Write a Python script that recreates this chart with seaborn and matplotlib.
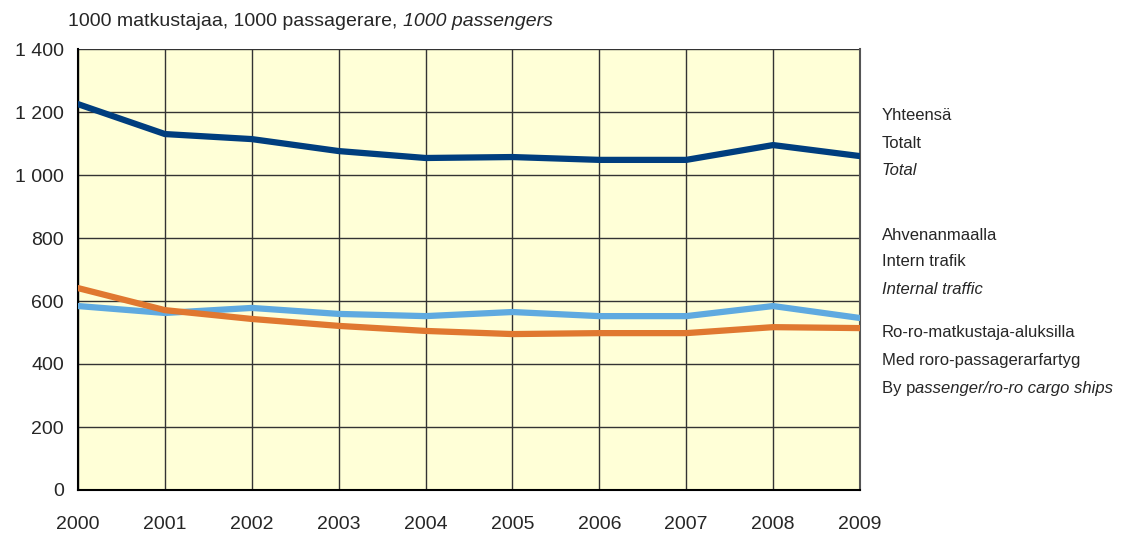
import pandas as pd
import matplotlib
matplotlib.use('Agg')
import matplotlib.pyplot as plt
import seaborn as sns

# Data (1000 passengers)
years = [2000, 2001, 2002, 2003, 2004, 2005, 2006, 2007, 2008, 2009]
total = [1225, 1130, 1114, 1076, 1054, 1057, 1048, 1048, 1095, 1060]
internal = [584, 562, 578, 559, 552, 565, 552, 552, 584, 546]
roro = [641, 571, 543, 521, 505, 495, 498, 498, 517, 514]
y_ticks = [0, 200, 400, 600, 800, 1000, 1200, 1400]
y_labels = ['0', '200', '400', '600', '800', '1 000', '1 200', '1 400']

sns.set_style('white')
plt.rcParams['font.family'] = ['Liberation Sans Narrow', 'Liberation Sans', 'DejaVu Sans']

df = pd.DataFrame({
    'year': years * 3,
    'value': total + internal + roro,
    'series': ['total'] * 10 + ['internal'] * 10 + ['roro'] * 10,
})
colors = {'total': '#003E7E', 'internal': '#5FAAE0', 'roro': '#E07830'}

fig = plt.figure(figsize=(11.3, 5.37), dpi=100)
ax = fig.add_axes([78 / 1130, 47 / 537, 782 / 1130, 441 / 537])
ax.set_facecolor('#FFFFD7')

sns.lineplot(data=df, x='year', y='value', hue='series', palette=colors,
             linewidth=4.5, legend=False, ax=ax, zorder=3)

ax.set_xlim(2000, 2009)
ax.set_ylim(0, 1400)
ax.set_xticks(years)
ax.set_xticklabels([str(y) for y in years], fontsize=14)
ax.set_yticks(y_ticks)
ax.set_yticklabels(y_labels, fontsize=14)
ax.set_xlabel('')
ax.set_ylabel('')
ax.grid(True, color='#333333', linewidth=1.0)
ax.tick_params(axis='y', direction='out', length=6, width=1, color='#222222', pad=4)
ax.tick_params(axis='x', direction='out', length=6, width=1, color='#444444', pad=13)
for s in ['left', 'bottom']:
    ax.spines[s].set_color('black')
    ax.spines[s].set_linewidth(1.5)
ax.spines['right'].set_color('#555555')
ax.spines['right'].set_linewidth(1.5)
ax.spines['top'].set_visible(False)

fig.canvas.draw()
renderer = fig.canvas.get_renderer()


def two_part(x, y, normal, italic, size=14):
    t = fig.text(x / 1130, 1 - y / 537, normal, fontsize=size, va='center', ha='left')
    bb = t.get_window_extent(renderer=renderer)
    fig.text(bb.x1 / 1130, 1 - y / 537, italic, fontsize=size, va='center', ha='left',
             style='italic')


two_part(68, 22, '1000 matkustajaa, 1000 passagerare, ', '1000 passengers')

side = 12
labels = [
    (115, 'Yhteensä', False), (143, 'Totalt', False), (171, 'Total', True),
    (235, 'Ahvenanmaalla', False), (262, 'Intern trafik', False), (290, 'Internal traffic', True),
    (333, 'Ro-ro-matkustaja-aluksilla', False), (361, 'Med roro-passagerarfartyg', False),
]
for y, txt, it in labels:
    fig.text(882 / 1130, 1 - y / 537, txt, fontsize=side, va='center', ha='left',
             style='italic' if it else 'normal')
two_part(882, 389, 'By p', 'assenger/ro-ro cargo ships', size=side)

fig.savefig('out.png', dpi=100)
